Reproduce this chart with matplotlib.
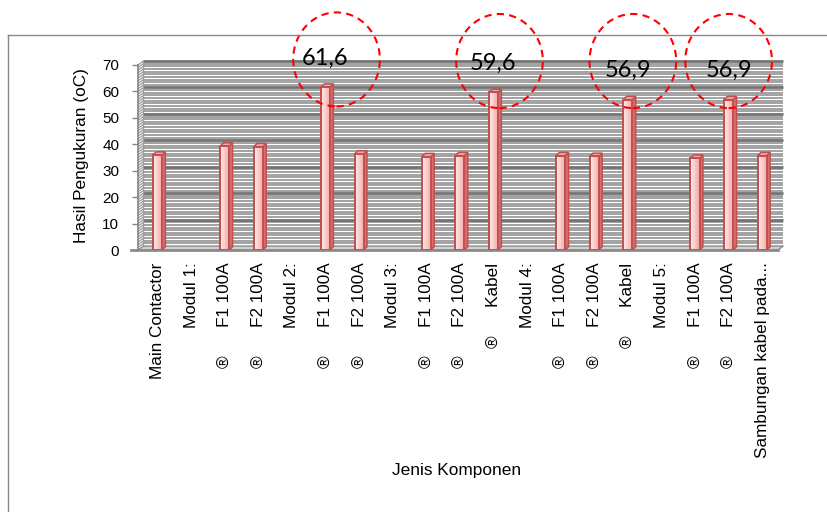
import numpy as np
import matplotlib.pyplot as plt
from matplotlib.patches import Rectangle, Polygon, Ellipse
from matplotlib.colors import LinearSegmentedColormap
from matplotlib.lines import Line2D

# Hasil pengukuran suhu per komponen (None = judul modul, tanpa batang)
GAP = " " * 6
labels = [
    "Main Contactor", "Modul 1:", "\u00ae" + GAP + "F1 100A", "\u00ae" + GAP + "F2 100A",
    "Modul 2:", "\u00ae" + GAP + "F1 100A", "\u00ae" + GAP + "F2 100A",
    "Modul 3:", "\u00ae" + GAP + "F1 100A", "\u00ae" + GAP + "F2 100A", "\u00ae" + GAP + "Kabel",
    "Modul 4:", "\u00ae" + GAP + "F1 100A", "\u00ae" + GAP + "F2 100A", "\u00ae" + GAP + "Kabel",
    "Modul 5:", "\u00ae" + GAP + "F1 100A", "\u00ae" + GAP + "F2 100A", "Sambungan kabel pada...",
]
values = [35.9, None, 39.3, 39.1, None, 61.6, 36.3, None, 35.3, 35.7, 59.6,
          None, 35.7, 35.4, 56.9, None, 34.7, 56.9, 35.7]

# titik panas yang ditandai lingkaran merah
hot_idx = [5, 10, 14, 17]
hot_text = ["61,6", "59,6", "56,9", "56,9"]
circle_dx = [0.33, 0.18, 0.15, 0.0]
circle_y = [72.1, 71.5, 71.5, 71.5]

FONT = ["Liberation Sans", "DejaVu Sans"]
EDGE = "#C0504D"
GRID = "#9E9E9E"
GRID_MAJ = "#737373"

fig = plt.figure(figsize=(8.28, 5.12), dpi=100)
ax = fig.add_axes([138 / 828, 262 / 512, 640 / 828, 185 / 512])

x0, x1 = -0.58, 18.47
y0, y1 = 0, 70
dx, dy = 0.16, 1.5       # kedalaman dinding 3D
bw, bdx, bdy = 0.27, 0.10, 1.25   # lebar batang dan sisi 3D

# dinding belakang bergaris
for y in range(1, 71):
    major = y % 10 == 0
    ax.plot([x0 + dx, x1 + dx], [y + dy, y + dy],
            color=GRID_MAJ if major else GRID, lw=2.0 if major else 1.35,
            zorder=1, clip_on=False, solid_capstyle="butt")
    # dinding samping kiri
    ax.plot([x0, x0 + dx], [y, y + dy], color=GRID, lw=0.9, zorder=1, clip_on=False)
ax.plot([x0 + dx, x0 + dx], [dy, y1 + dy], color=GRID, lw=1, zorder=1, clip_on=False)

# lantai
floor = Polygon([(x0, 0), (x1, 0), (x1 + dx, dy), (x0 + dx, dy)], closed=True,
                facecolor="#D0D0D0", edgecolor="#8C8C8C", lw=1, zorder=2, clip_on=False)
ax.add_patch(floor)
ax.plot([x0 - 0.2, x1], [0, 0], color="#8C8C8C", lw=2, zorder=2, clip_on=False)
ax.plot([x0, x0], [0, y1], color="#868686", lw=1.2, zorder=2, clip_on=False)

# batang 3D dengan gradasi
cmap = LinearSegmentedColormap.from_list("bar", ["#FFEDED", "#FBC9C9", "#F3A0A0"])
grad = np.linspace(0, 1, 64).reshape(1, -1)
for i, v in enumerate(values):
    if v is None:
        continue
    l, r = i - bw / 2, i + bw / 2
    side = Polygon([(r, 0), (r + bdx, bdy), (r + bdx, v + bdy), (r, v)], closed=True,
                   facecolor="#D96E6E", edgecolor=EDGE, lw=1.1, zorder=3)
    top = Polygon([(l, v), (r, v), (r + bdx, v + bdy), (l + bdx, v + bdy)], closed=True,
                  facecolor="#F0A8A8", edgecolor=EDGE, lw=1.1, zorder=3)
    ax.add_patch(side)
    ax.add_patch(top)
    front = Rectangle((l, 0), bw, v, facecolor="none", edgecolor=EDGE, lw=1.4, zorder=5)
    ax.add_patch(front)
    im = ax.imshow(grad, extent=(l, r, 0, v), aspect="auto", cmap=cmap,
                   zorder=4, interpolation="bilinear")
    im.set_clip_path(front)

# label nilai dan lingkaran putus-putus
for k, i in enumerate(hot_idx):
    v = values[i]
    ax.text(i, v + 11, hot_text[k], ha="center", va="center", fontsize=17,
            family=["Lato", "DejaVu Sans"], color="black", zorder=7, clip_on=False)
    ax.add_patch(Ellipse((i + circle_dx[k], circle_y[k]), 2 * 1.29, 2 * 17.8,
                         fill=False, edgecolor="#FF0000", lw=1.5,
                         linestyle=(0, (3.5, 2.5)), zorder=8, clip_on=False))

ax.set_xlim(x0, x1)
ax.set_ylim(y0, y1)
for s in ax.spines.values():
    s.set_visible(False)

ax.set_yticks(range(0, 71, 10))
ax.tick_params(axis="y", length=4, width=1, color="#868686", pad=9.5)
for t in ax.get_yticklabels():
    t.set_family(FONT)
    t.set_fontsize(11)

ax.set_xticks(range(len(labels)))
ax.set_xticklabels(labels, rotation=90, family=FONT, fontsize=12.3)
ax.tick_params(axis="x", length=0, pad=9)

fig.text(82 / 828, 1 - 156 / 512, "Hasil Pengukuran (oC)", rotation=90,
         ha="center", va="center", family=FONT, fontsize=12.4)
fig.text(457 / 828, 1 - 470 / 512, "Jenis Komponen", ha="center", va="center",
         family=FONT, fontsize=12.4)

# bingkai area grafik
fig.add_artist(Line2D([8 / 828, 1], [1 - 35 / 512, 1 - 35 / 512], color="#878787", lw=1))
fig.add_artist(Line2D([8 / 828, 8 / 828], [0, 1 - 35 / 512], color="#878787", lw=1))

fig.savefig("out.png", dpi=100)
